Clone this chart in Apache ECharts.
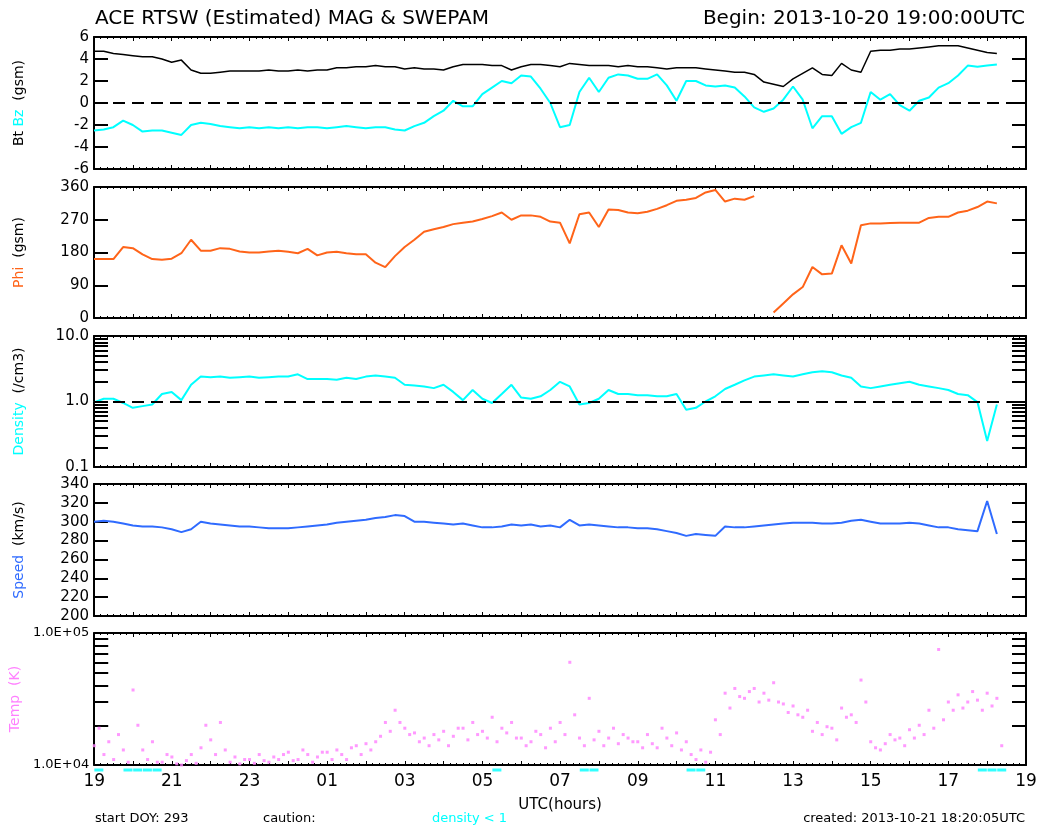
<!DOCTYPE html>
<html>
<head>
<meta charset="utf-8">
<title>ACE RTSW MAG & SWEPAM</title>
<script src="https://cdn.jsdelivr.net/npm/echarts@6/dist/echarts.min.js"></script>
</head>
<body style="margin:0;background:#fff">
<div id="main" style="width:1040px;height:834px;"></div>
<script type="text/javascript">
// samples every 15 min starting 2013-10-20 19:00 UTC (x = hours since start)
var START_HOUR = 19;
var STEP = 0.25;

// Bt / Bz (nT, gsm)
var bt = [
  4.7, 4.7, 4.5, 4.4,   4.3, 4.2, 4.2, 4.0,   3.7, 3.9, 3.0, 2.7,   2.7, 2.8, 2.9, 2.9,
  2.9, 2.9, 3.0, 2.9,   2.9, 3.0, 2.9, 3.0,   3.0, 3.2, 3.2, 3.3,   3.3, 3.4, 3.3, 3.3,
  3.1, 3.2, 3.1, 3.1,   3.0, 3.3, 3.5, 3.5,   3.5, 3.4, 3.4, 3.0,   3.3, 3.5, 3.5, 3.4,
  3.3, 3.6, 3.5, 3.4,   3.4, 3.4, 3.3, 3.4,   3.3, 3.3, 3.2, 3.1,   3.2, 3.2, 3.2, 3.1,
  3.0, 2.9, 2.8, 2.8,   2.6, 1.9, 1.7, 1.5,   2.2, 2.7, 3.2, 2.6,   2.5, 3.6, 3.0, 2.8,
  4.7, 4.8, 4.8, 4.9,   4.9, 5.0, 5.1, 5.2,   5.2, 5.2, 5.0, 4.8,   4.6, 4.5
];
var bz = [
  -2.5, -2.4, -2.2, -1.6,   -2.0, -2.6, -2.5, -2.5,   -2.7, -2.9, -2.0, -1.8,   -1.9, -2.1, -2.2, -2.3,
  -2.2, -2.3, -2.2, -2.3,   -2.2, -2.3, -2.2, -2.2,   -2.3, -2.2, -2.1, -2.2,   -2.3, -2.2, -2.2, -2.4,
  -2.5, -2.1, -1.8, -1.2,   -0.7, 0.2, -0.3, -0.3,    0.8, 1.4, 2.0, 1.8,       2.5, 2.4, 1.3, 0.0,
  -2.2, -2.0, 1.0, 2.3,     1.0, 2.3, 2.6, 2.5,       2.2, 2.2, 2.6, 1.6,       0.2, 2.0, 2.0, 1.6,
  1.5, 1.6, 1.4, 0.6,       -0.4, -0.8, -0.5, 0.3,    1.5, 0.3, -2.3, -1.2,     -1.2, -2.8, -2.2, -1.8,
  1.0, 0.3, 0.8, -0.2,      -0.7, 0.2, 0.5, 1.4,      1.8, 2.5, 3.4, 3.3,       3.4, 3.5
];
// Phi (deg, gsm); null where the angle wraps 360 -> 0
var phi = [
  162, 162, 162, 195,   192, 175, 162, 160,   163, 178, 215, 185,   185, 192, 190, 183,
  180, 180, 183, 185,   182, 178, 190, 172,   180, 182, 178, 175,   175, 152, 140, 170,
  195, 215, 237, 244,   250, 258, 262, 265,   272, 280, 290, 270,   282, 282, 278, 265,
  262, 205, 285, 290,   250, 298, 297, 290,   288, 292, 300, 310,   322, 325, 330, 345,
  352, 320, 328, 325,   335, null, 15, 40,    65, 85, 140, 120,     122, 200, 150, 255,
  260, 260, 261, 262,   262, 262, 275, 278,   278, 290, 295, 305,   320, 315
];
// proton density (/cm3)
var density = [
  0.97, 1.1, 1.1, 0.95,   0.8, 0.85, 0.9, 1.3,    1.4, 1.05, 1.8, 2.4,    2.35, 2.4, 2.3, 2.35,
  2.4, 2.3, 2.35, 2.4,    2.4, 2.6, 2.2, 2.2,     2.2, 2.15, 2.3, 2.2,    2.4, 2.5, 2.4, 2.3,
  1.8, 1.75, 1.7, 1.6,    1.8, 1.4, 1.05, 1.5,    1.1, 0.95, 1.3, 1.8,    1.15, 1.1, 1.2, 1.5,
  2.0, 1.7, 0.9, 0.95,    1.1, 1.5, 1.3, 1.3,     1.25, 1.25, 1.2, 1.2,   1.3, 0.75, 0.8, 1.0,
  1.2, 1.55, 1.8, 2.1,    2.4, 2.5, 2.6, 2.5,     2.4, 2.6, 2.8, 2.9,     2.8, 2.5, 2.3, 1.7,
  1.6, 1.7, 1.8, 1.9,     2.0, 1.8, 1.7, 1.6,     1.5, 1.3, 1.25, 0.98,   0.25, 0.9
];
// bulk speed (km/s)
var speed = [
  300, 301, 300, 298,   296, 295, 295, 294,   292, 289, 292, 300,   298, 297, 296, 295,
  295, 294, 293, 293,   293, 294, 295, 296,   297, 299, 300, 301,   302, 304, 305, 307,
  306, 300, 300, 299,   298, 297, 298, 296,   294, 294, 295, 297,   296, 297, 295, 296,
  294, 302, 296, 297,   296, 295, 294, 294,   293, 293, 292, 290,   288, 285, 287, 286,
  285, 295, 294, 294,   295, 296, 297, 298,   299, 299, 299, 298,   298, 299, 301, 302,
  300, 298, 298, 298,   299, 298, 296, 294,   294, 292, 291, 290,   322, 287
];
// ion temperature (K), two sample streams offset by half a step
var tempA = [
  14000, 12000, 11000, 13000,   37000, 13000, 15000, 10500,   11500, 10000, 12000, 13500,   15500, 21000, 10500, 10200,
  11000, 12000, 10500, 11000,   12500, 11000, 12000, 11500,   12500, 13000, 11000, 14000,   14500, 15000, 21000, 26000,
  19000, 17500, 16000, 17000,   18000, 16500, 19000, 21000,   18000, 23000, 19000, 21000,   16000, 15000, 17000, 19000,
  21000, 60000, 16000, 32000,   18000, 16000, 14500, 16000,   15000, 17000, 13500, 16000,   17500, 15000, 11000, 10500,
  22000, 35000, 38000, 32000,   38000, 35000, 42000, 29000,   28000, 23000, 18000, 17000,   19000, 27000, 24000, 44000,
  15000, 13000, 17000, 16000,   18500, 20000, 26000, 75000,   30000, 34000, 30000, 31000,   35000, 32000
];
var tempB = [
  19000, 15000, 17000, 10500,   20000, 11000, 10500, 12000,   10200, 10800, 10300, 20000,   12000, 13000, 11500, 11000,
  10300, 10800, 11500, 12000,   10800, 13000, 10500, 12500,   11000, 12000, 13500, 12000,   13000, 16500, 18000, 21000,
  17000, 15000, 14000, 15500,   14000, 19000, 15500, 17000,   16000, 15000, 17500, 16000,   14000, 18000, 13500, 15000,
  17000, 24000, 14000, 15500,   14000, 19000, 17000, 15000,   13500, 14500, 19000, 14000,   13000, 12000, 13000, 12500,
  17000, 27000, 33000, 36000,   30000, 31000, 30000, 25000,   24000, 26000, 21000, 19500,   15500, 23000, 21000, 30000,
  13500, 14500, 15500, 14000,   16000, 17000, 19000, 22000,   26000, 27000, 36000, 26000,   28000, 14000
];

var FONT = 'DejaVu Sans';
var CYAN = '#00ffff', ORANGE = '#ff6419', BLUE = '#2f6bff', PINK = '#ff80ff';

function pts(arr, off) {
  return arr.map(function (v, i) { return [i * STEP + (off || 0), v]; });
}
function hourLabel(v) {
  if (v % 2) return '';
  var h = (START_HOUR + v) % 24;
  return (h < 10 ? '0' : '') + h;
}

var panels = [
  {top: 37, height: 132},
  {top: 187, height: 131},
  {top: 336, height: 131},
  {top: 484, height: 132},
  {top: 633, height: 132}
];

var yCfg = [
  {type: 'value', min: -6, max: 6, interval: 2,
   name: '{k|Bt} {c|Bz}  {k|(gsm)}'},
  {type: 'value', min: 0, max: 360, interval: 90,
   name: '{o|Phi}  {k|(gsm)}'},
  {type: 'log', min: 0.1, max: 10,
   ticks: [0.1, 0.2, 0.3, 0.4, 0.5, 0.6, 0.7, 0.8, 0.9, 1, 2, 3, 4, 5, 6, 7, 8, 9, 10],
   labels: [0.1, 1, 10],
   fmt: function (v) { return Number(v).toFixed(1); },
   name: '{c|Density}  {k|(/cm3)}'},
  {type: 'value', min: 200, max: 340, interval: 20,
   name: '{b|Speed}  {k|(km/s)}'},
  {type: 'log', min: 1e4, max: 1e5,
   ticks: [1e4, 2e4, 3e4, 4e4, 5e4, 6e4, 7e4, 8e4, 9e4, 1e5],
   labels: [1e4, 1e5],
   fmt: function (v) { return '1.0E+0' + Math.round(Math.log(v) / Math.LN10); },
   labelSize: 13,
   name: '{p|Temp}  {p|(K)}'}
];

var rich = {
  k: {color: '#000', fontFamily: FONT, fontSize: 14},
  c: {color: CYAN, fontFamily: FONT, fontSize: 14},
  o: {color: ORANGE, fontFamily: FONT, fontSize: 14},
  b: {color: BLUE, fontFamily: FONT, fontSize: 14},
  p: {color: PINK, fontFamily: FONT, fontSize: 14}
};

var grid = [], xAxis = [], yAxis = [];
var border = {color: '#000', width: 2};

panels.forEach(function (p, i) {
  grid.push({left: 94, right: 14, top: p.top, height: p.height});
  ['bottom', 'top'].forEach(function (pos) {
    xAxis.push({
      gridIndex: i, type: 'value', position: pos, min: 0, max: 24, interval: 1,
      axisLine: {show: true, onZero: false, lineStyle: border},
      axisTick: {show: true, inside: true, length: 4, lineStyle: {color: '#000', width: 1}},
      minorTick: {show: true, splitNumber: 6, length: 2, lineStyle: {color: '#000', width: 1}},
      splitLine: {show: false},
      axisLabel: {show: i === 4 && pos === 'bottom', formatter: hourLabel, margin: 8,
                  color: '#000', fontFamily: FONT, fontSize: 17},
      name: (i === 4 && pos === 'bottom') ? 'UTC(hours)' : '',
      nameLocation: 'middle', nameGap: 33,
      nameTextStyle: {color: '#000', fontFamily: FONT, fontSize: 15}
    });
  });
  var c = yCfg[i];
  ['left', 'right'].forEach(function (pos) {
    var ax = {
      gridIndex: i, type: c.type, position: pos, min: c.min, max: c.max,
      axisLine: {show: true, onZero: false, lineStyle: border},
      axisTick: {show: true, inside: true, length: 14, lineStyle: {color: '#000', width: 2}},
      splitLine: {show: false},
      axisLabel: {show: pos === 'left', margin: 5, color: '#000', fontFamily: FONT,
                  fontSize: c.labelSize || 15},
      name: pos === 'left' ? c.name : '',
      nameLocation: 'middle', nameRotate: 90, nameGap: 68,
      nameTextStyle: {fontFamily: FONT, fontSize: 14, rich: rich}
    };
    if (c.type === 'value') {
      ax.interval = c.interval;
    } else {
      ax.logBase = 10;
      ax.axisTick.customValues = c.ticks;
      ax.axisLabel.customValues = c.labels;
      ax.axisLabel.formatter = c.fmt;
    }
    yAxis.push(ax);
  });
});

// strip under the last panel marking density < 1
var caution = [];
density.forEach(function (v, i) { if (v != null && v < 1) caution.push([i * STEP + STEP / 2, 0]); });
grid.push({left: 94, right: 14, top: 768, height: 4});
xAxis.push({gridIndex: 5, type: 'value', min: 0, max: 24, show: false});
yAxis.push({gridIndex: 5, type: 'value', min: -1, max: 1, show: false});

function dashed(v) {
  return {silent: true, symbol: 'none', label: {show: false},
          lineStyle: {color: '#000', type: [12, 7], width: 2},
          data: [{yAxis: v}]};
}
function lineSeries(name, gi, data, color, extra) {
  var s = {name: name, type: 'line', xAxisIndex: gi * 2, yAxisIndex: gi * 2, data: data,
           showSymbol: false, connectNulls: false,
           lineStyle: {color: color, width: 2}, itemStyle: {color: color}};
  for (var k in extra) s[k] = extra[k];
  return s;
}

var myChart = echarts.init(document.getElementById('main'));
myChart.setOption({
  animation: false,
  backgroundColor: '#fff',
  grid: grid,
  xAxis: xAxis,
  yAxis: yAxis,
  graphic: [
    {type: 'text', left: 95, top: 9, style: {text: 'ACE RTSW (Estimated) MAG & SWEPAM',
      fill: '#000', font: '20px "DejaVu Sans"'}},
    {type: 'text', right: 15, top: 9, style: {text: 'Begin: 2013-10-20 19:00:00UTC',
      fill: '#000', font: '20px "DejaVu Sans"'}},
    {type: 'text', left: 95, top: 812, style: {text: 'start DOY: 293',
      fill: '#000', font: '13px "DejaVu Sans"'}},
    {type: 'text', left: 263, top: 812, style: {text: 'caution:',
      fill: '#000', font: '13px "DejaVu Sans"'}},
    {type: 'text', left: 432, top: 812, style: {text: 'density < 1',
      fill: CYAN, font: '13px "DejaVu Sans"'}},
    {type: 'text', right: 15, top: 812, style: {text: 'created: 2013-10-21 18:20:05UTC',
      fill: '#000', font: '13px "DejaVu Sans"'}}
  ],
  series: [
    lineSeries('Bt', 0, pts(bt), '#000', {lineStyle: {color: '#000', width: 1.5}, markLine: dashed(0)}),
    lineSeries('Bz', 0, pts(bz), CYAN),
    lineSeries('Phi', 1, pts(phi), ORANGE),
    lineSeries('Density', 2, pts(density), CYAN, {markLine: dashed(1)}),
    lineSeries('Speed', 3, pts(speed), BLUE),
    {name: 'TempA', type: 'scatter', xAxisIndex: 8, yAxisIndex: 8, data: pts(tempA),
     symbol: 'rect', symbolSize: 3, itemStyle: {color: PINK}},
    {name: 'TempB', type: 'scatter', xAxisIndex: 8, yAxisIndex: 8, data: pts(tempB, STEP / 2),
     symbol: 'rect', symbolSize: 3, itemStyle: {color: PINK}},
    {name: 'caution', type: 'scatter', xAxisIndex: 10, yAxisIndex: 10, data: caution,
     symbol: 'rect', symbolSize: [9, 3], itemStyle: {color: CYAN}}
  ]
});
</script>
</body>
</html>
